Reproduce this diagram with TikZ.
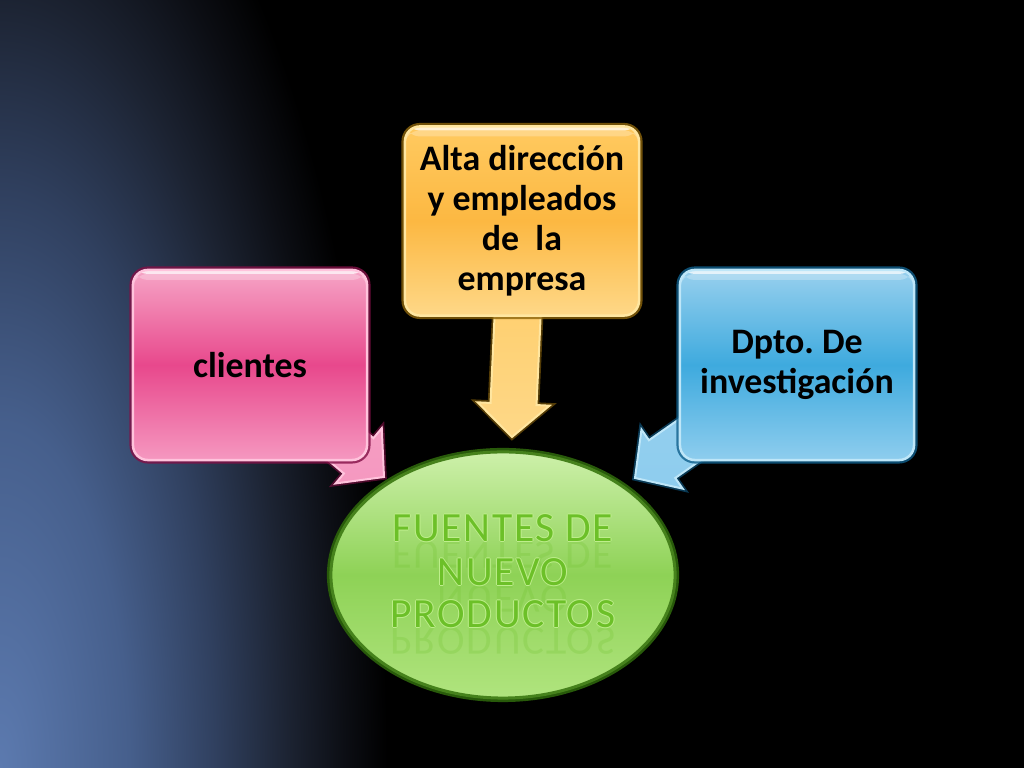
\documentclass[tikz,border=0pt]{standalone}
\usepackage{fontspec}
\setmainfont{Carlito}
\newfontfamily\artfont[LetterSpace=4]{Carlito}
\usetikzlibrary{calc}
\usetikzlibrary{shapes.geometric}
\frenchspacing

\definecolor{bgA}{RGB}{92,122,175}
\definecolor{bgB}{RGB}{70,95,140}
\definecolor{bgC}{RGB}{48,64,95}
\definecolor{bgD}{RGB}{28,35,50}
\definecolor{bgE}{RGB}{12,14,20}
\definecolor{pinkT}{RGB}{246,165,198}
\definecolor{pinkM}{RGB}{232,72,140}
\definecolor{pinkB}{RGB}{245,152,192}
\definecolor{pinkL}{RGB}{255,195,220}
\definecolor{pinkG}{RGB}{130,15,70}
\definecolor{orgT}{RGB}{255,202,96}
\definecolor{orgM}{RGB}{252,184,66}
\definecolor{orgB}{RGB}{254,216,136}
\definecolor{orgL}{RGB}{255,230,160}
\definecolor{orgG}{RGB}{140,100,10}
\definecolor{bluT}{RGB}{152,208,238}
\definecolor{bluM}{RGB}{62,170,222}
\definecolor{bluB}{RGB}{142,205,238}
\definecolor{bluL}{RGB}{190,230,248}
\definecolor{bluG}{RGB}{15,95,140}
\definecolor{grnT}{RGB}{205,240,170}
\definecolor{grnM}{RGB}{142,210,86}
\definecolor{grnB}{RGB}{176,228,126}
\definecolor{grnL}{RGB}{70,130,28}
\definecolor{grnG}{RGB}{40,90,10}
\definecolor{artC}{RGB}{108,192,40}
\definecolor{artH}{RGB}{190,238,140}

\pgfdeclareradialshading{bgglow}{\pgfpoint{0bp}{0bp}}{color(0bp)=(bgA); color(7.5bp)=(bgB); color(12.5bp)=(bgC); color(16.75bp)=(bgD); color(20bp)=(bgE); color(22.5bp)=(black); color(25bp)=(black)}

\pgfdeclarelayer{bg}
\pgfdeclarelayer{arrows}
\pgfsetlayers{bg,arrows,main}

\newcommand\blockarrow[3]{%
    \coordinate (hb) at ($(#2)!0.33cm!(#1.center)$);
    \path [#3] ($(#1.center)!0.23cm!90:(#2)$) -- ($(hb)!0.23cm!90:(#2)$) -- ($(hb)!0.36cm!90:(#2)$) -- (#2)
        -- ($(hb)!0.36cm!-90:(#2)$) -- ($(hb)!0.23cm!-90:(#2)$) -- ($(#1.center)!0.23cm!-90:(#2)$) -- cycle;
}

\begin{document}
\begin{tikzpicture}[x=0.01cm,y=-0.01cm,font=\fontsize{10.2}{11.4}\selectfont\bfseries,
        box/.style={draw=#1L, line width=0.025cm, rounded corners=0.15cm, top color=#1T, bottom color=#1B, middle color=#1M,
            minimum width=2.34cm, minimum height=1.9cm, inner sep=0pt, align=center, text=black,
            preaction={draw=#1G, line width=0.07cm, draw opacity=.8},
            path picture={
                \fill [white, opacity=.75] (path picture bounding box.north west) rectangle ($(path picture bounding box.north east)+(0,4)$);
                \fill [white, opacity=.25] ($(path picture bounding box.north west)+(0,4)$) rectangle ($(path picture bounding box.north east)+(0,10)$);
            }},
        blockfill/.style={draw=#1L, line width=0.02cm, top color=#1T, bottom color=#1B,
            preaction={draw=#1G, line width=0.055cm, draw opacity=.6}},
        art/.style={font=\artfont\fontsize{11.8}{13}\selectfont\mdseries, anchor=base}]
    \useasboundingbox (0,0) rectangle (1024,768);
    \begin{pgfonlayer}{bg}
        \fill [black] (0,0) rectangle (1024,768);
        \begin{scope}
            \clip (0,0) rectangle (1024,768);
            \shade [shading=bgglow] (0,768) ellipse [x radius=4.3cm, y radius=11.5cm];
        \end{scope}
    \end{pgfonlayer}

    \node [box=pink] (cli) at (250,365) {clientes};
    \node [box=org, minimum height=1.89cm] (alta) at (522,221) {Alta dirección\\y empleados\\de~ la\\empresa};
    \node [box=blu] (inv) at (797,365) {Dpto. De\\investigación};

    \coordinate (tipC) at (384,477);
    \coordinate (tipA) at (512,437);
    \coordinate (tipI) at (635,478);
    \begin{pgfonlayer}{arrows}
        \blockarrow{cli}{tipC}{blockfill=pink}
        \blockarrow{alta}{tipA}{blockfill=org}
        \blockarrow{inv}{tipI}{blockfill=blu}
    \end{pgfonlayer}

    \node [ellipse, draw=grnL, line width=0.03cm, top color=grnT, bottom color=grnB, middle color=grnM,
        minimum width=3.44cm, minimum height=2.46cm, inner sep=0pt,
        preaction={draw=grnG, line width=0.08cm}] (fuentes) at (503,575) {};
    \foreach \t/\y [count=\i] in {FUENTES DE/542, NUEVO/586, PRODUCTOS/628}{
        \node [art, text=artC, opacity=.22, yscale=-1, transform shape] (r\i) at (503,\y) {\t};
        \foreach \dx/\dy in {-1/0, 1/0, 0/-1, 0/1}
            \node [art, text=artH] at (503+\dx,\y+\dy) {\t};
        \node [art, text=artC] (w\i) at (503,\y) {\t};
    }
\end{tikzpicture}
\end{document}
